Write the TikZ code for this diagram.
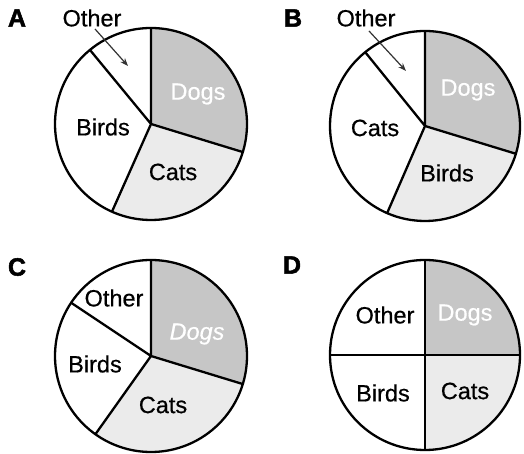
\documentclass[tikz,border=0pt]{standalone}
\usepackage{fontspec}
\setmainfont{Liberation Sans}
\newfontfamily\labelfont[FakeBold=0.5]{Liberation Sans}
\newfontfamily\labelitfont[FakeBold=0.5]{Liberation Sans Italic}
\newfontfamily\heavyfont[FakeBold=2]{Liberation Sans Bold}
\usetikzlibrary{arrows.meta}
\definecolor{doggray}{HTML}{C6C6C6}
\definecolor{catgray}{HTML}{EBEBEB}
\tikzset{
  edge/.style={line width=2.3pt, line join=round},
  lbl/.style={font=\fontsize{23.5}{26}\labelfont, inner sep=0pt},
  dlbl/.style={lbl, text=white},
  letter/.style={font=\fontsize{25}{28}\heavyfont, inner sep=0pt},
  pointer/.style={line width=1.2pt, draw=black!80, -{Stealth[length=8pt,width=6pt]}}
}
\newcommand{\sector}[5]{% center, r, start, end, colour
  \fill[#5] (#1) -- ++(#3:#2) arc[start angle=#3, end angle=#4, radius=#2] -- cycle;}
\begin{document}
\begin{tikzpicture}[x=1pt,y=1pt]
\useasboundingbox (0,0) rectangle (524,454);
\fill[white] (0,0) rectangle (524,454);
% ---------- A ----------
\coordinate (ca) at (151,330);
\sector{ca}{96}{90}{-17}{doggray}
\sector{ca}{96}{-17}{-114}{catgray}
\draw[edge] (ca) circle[radius=96];
\draw[edge] (ca) -- ++(90:96) (ca) -- ++(-17:96) (ca) -- ++(-114:96) (ca) -- ++(129.5:96);
\node[letter] (la) at (17,436) {A};
\node[lbl] (oa) at (92,436) {Other};
\node[lbl] (ba) at (103,327) {Birds};
\node[lbl] (cta) at (173,282) {Cats};
\node[dlbl] (da) at (198,360) {Dogs};
\coordinate (pa1) at (95,425);
\coordinate (pa2) at (128,388);
\draw[pointer] (pa1) -- (pa2);
% ---------- B ----------
\coordinate (cb) at (425,328);
\sector{cb}{95}{90}{-17}{doggray}
\sector{cb}{95}{-17}{-113.5}{catgray}
\draw[edge] (cb) circle[radius=95];
\draw[edge] (cb) -- ++(90:95) (cb) -- ++(-17:95) (cb) -- ++(-113.5:95) (cb) -- ++(129:95);
\node[letter] (lb) at (293,436) {B};
\node[lbl] (ob) at (366,436) {Other};
\node[lbl] (cbt) at (375,326) {Cats};
\node[lbl] (bb) at (447,281) {Birds};
\node[dlbl] (db) at (468,364) {Dogs};
\coordinate (pb1) at (369,423);
\coordinate (pb2) at (406,383);
\draw[pointer] (pb1) -- (pb2);
% ---------- C ----------
\coordinate (cc) at (151,98);
\sector{cc}{96}{90}{-17}{doggray}
\sector{cc}{96}{-17}{-125.4}{catgray}
\draw[edge] (cc) circle[radius=96];
\draw[edge] (cc) -- ++(90:96) (cc) -- ++(-17:96) (cc) -- ++(-125.4:96) (cc) -- ++(146.3:96);
\node[letter] (lc) at (17,187) {C};
\node[lbl] (oc) at (114,156) {Other};
\node[lbl] (bc) at (95,90) {Birds};
\node[lbl] (ctc) at (163,49) {Cats};
\node[dlbl, font=\fontsize{23.5}{26}\labelitfont] (dc) at (197,120) {Dogs};
% ---------- D ----------
\coordinate (cd) at (425,99);
\sector{cd}{95}{90}{0}{doggray}
\sector{cd}{95}{0}{-90}{catgray}
\draw[edge] (cd) circle[radius=95];
\draw[edge] (cd) -- ++(90:95) (cd) -- ++(0:95) (cd) -- ++(-90:95) (cd) -- ++(180:95);
\node[letter] (ld) at (292,189) {D};
\node[lbl] (od) at (385,139) {Other};
\node[lbl] (bd) at (383,61) {Birds};
\node[lbl] (ctd) at (465,63) {Cats};
\node[dlbl] (dd) at (465,139) {Dogs};
\end{tikzpicture}
\end{document}
